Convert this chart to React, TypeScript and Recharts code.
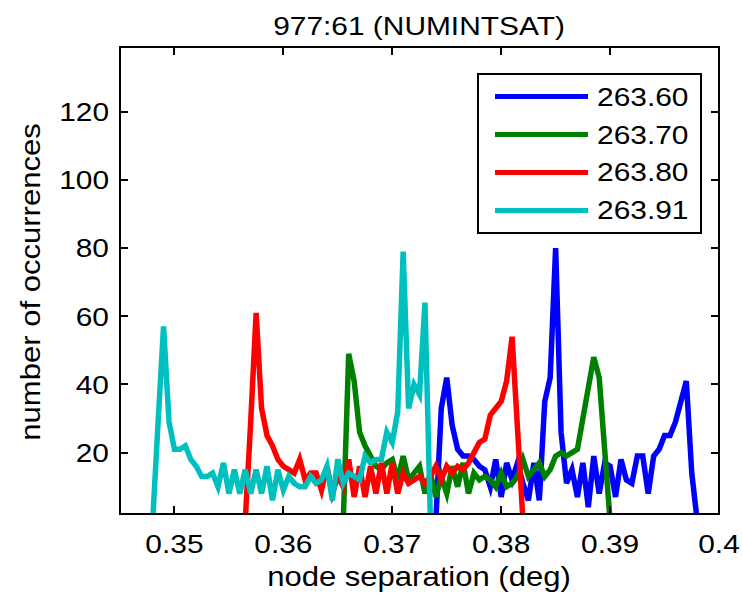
import React from 'react';
import { LineChart, Line, XAxis, YAxis, Legend } from 'recharts';

// histogram bins are 0.0005 deg wide
const binWidth = 0.0005;

const seriesLabels = ['263.60', '263.70', '263.80', '263.91'];
const seriesColors = ['#0000ff', '#008000', '#ff0000', '#00bfbf'];

// centre of the first bin of each curve
const seriesStarts = [0.374, 0.3655, 0.3565, 0.348];

const counts2636 = [0, 33, 42, 28, 21, 19, 19, 18, 16, 15, 10, 18, 7, 17, 12, 17, 11, 6, 17, 6, 35, 42, 80, 26, 11, 15, 7, 17, 4, 19, 8, 17, 16, 7, 18, 12, 11, 19, 19, 8, 19, 21, 25, 25, 29, 35, 41, 14, 0];
const counts2637 = [0, 49, 41, 26, 22, 19, 16, 15, 17, 18, 12, 19, 12, 14, 16, 8, 14, 7, 13, 8, 16, 10, 17, 8, 14, 12, 13, 12, 10, 14, 10, 11, 13, 18, 13, 15, 17, 13, 15, 19, 20, 19, 20, 21, 30, 39, 48, 42, 21, 0];
const counts2638 = [0, 29, 61, 33, 25, 22, 18, 16, 15, 14, 18, 12, 14, 14, 9, 16, 8, 13, 10, 18, 7, 16, 7, 16, 8, 17, 8, 17, 8, 14, 11, 12, 13, 11, 13, 16, 12, 16, 14, 16, 15, 17, 20, 23, 24, 31, 33, 35, 41, 54, 27, 0];
const counts26391 = [0, 29, 57, 29, 21, 21, 22, 18, 16, 13, 13, 14, 10, 17, 8, 15, 8, 15, 8, 15, 8, 16, 6, 15, 9, 13, 11, 10, 10, 13, 11, 12, 16, 6, 18, 11, 14, 13, 12, 19, 17, 18, 18, 26, 23, 32, 79, 33, 40, 37, 64, 0];

const xTicks = [0.35, 0.36, 0.37, 0.38, 0.39, 0.4];
const yTicks = [20, 40, 60, 80, 100, 120];

const xDomain = [0.345, 0.4];
const yDomain = [2, 139];

const allCounts = [counts2636, counts2637, counts2638, counts26391];

// one row per bin, each curve in its own column (empty outside its range)
const buildRows = () => {
  const rows = new Map<string, any>();
  allCounts.forEach((counts, s) => {
    counts.forEach((c, i) => {
      const x = +(seriesStarts[s] + i * binWidth).toFixed(4);
      const key = x.toFixed(4);
      if (!rows.has(key)) rows.set(key, { x });
      rows.get(key)[`s${s}`] = c;
    });
  });
  return Array.from(rows.values()).sort((a, b) => a.x - b.x);
};
const chartData = buildRows();

// chart geometry
const W = 742;
const H = 601;
const MARGIN = { top: 47, right: 23, bottom: 7, left: 0 };
const Y_AXIS_W = 120;
const X_AXIS_H = 80;
const plot = {
  left: MARGIN.left + Y_AXIS_W,
  right: W - MARGIN.right,
  top: MARGIN.top,
  bottom: H - MARGIN.bottom - X_AXIS_H,
};
const plotW = plot.right - plot.left;
const plotH = plot.bottom - plot.top;

const FONT = '"Liberation Sans", Arial, Helvetica, sans-serif';
const STRETCH = 1.15; // matlab's helvetica comes out wider than arial
const TICK_LEN = 7;
const FRAME_W = 2;

// fraction along the box for a tick value (frame decoration only)
const fracX = (v: number) => (v - xDomain[0]) / (xDomain[1] - xDomain[0]);
const fracY = (v: number) => (yDomain[1] - v) / (yDomain[1] - yDomain[0]);

const BottomTick = (props: any) => {
  const { x, y, payload } = props;
  return (
    <text transform={`translate(${x},${y + 19}) scale(${STRETCH},1)`} textAnchor="middle" fontSize={26} fontFamily={FONT} fill="#000">
      {String(payload.value)}
    </text>
  );
};

const LeftTick = (props: any) => {
  const { x, y, payload } = props;
  return (
    <text transform={`translate(${x},${y + 9.3}) scale(${STRETCH},1)`} textAnchor="end" fontSize={26} fontFamily={FONT} fill="#000">
      {payload.value}
    </text>
  );
};

const renderLegend = (props: any) => (
  <div
    style={{
      width: 225,
      height: 161,
      boxSizing: 'border-box',
      border: '2px solid #000',
      background: '#fff',
      paddingTop: 3,
      fontFamily: FONT,
    }}
  >
    {(props.payload || []).map((p: any) => (
      <div key={p.value} style={{ display: 'flex', alignItems: 'center', height: 37.8 }}>
        <div style={{ width: 93, height: 5, background: p.color, marginLeft: 16, marginRight: 9 }} />
        <span style={{ display: 'inline-block', fontSize: 26, color: '#000', lineHeight: 1, transform: `scaleX(${STRETCH})`, transformOrigin: 'left center' }}>
          {p.value}
        </span>
      </div>
    ))}
  </div>
);

// matlab style box around the axes, with inward ticks on all four sides
const AxesBox = () => {
  const tick = { position: 'absolute' as const, background: '#000' };
  return (
    <div
      style={{
        position: 'absolute',
        left: plot.left - FRAME_W / 2,
        top: plot.top - FRAME_W / 2,
        width: plotW + FRAME_W,
        height: plotH + FRAME_W,
        boxSizing: 'border-box',
        border: `${FRAME_W}px solid #000`,
        pointerEvents: 'none',
        zIndex: 10,
      }}
    >
      {xTicks.map((t) => (
        <React.Fragment key={`xt${t}`}>
          <div style={{ ...tick, left: fracX(t) * plotW - FRAME_W, width: FRAME_W, height: TICK_LEN, bottom: 0 }} />
          <div style={{ ...tick, left: fracX(t) * plotW - FRAME_W, width: FRAME_W, height: TICK_LEN, top: 0 }} />
        </React.Fragment>
      ))}
      {yTicks.map((t) => (
        <React.Fragment key={`yt${t}`}>
          <div style={{ ...tick, top: fracY(t) * plotH - FRAME_W, height: FRAME_W, width: TICK_LEN, left: 0 }} />
          <div style={{ ...tick, top: fracY(t) * plotH - FRAME_W, height: FRAME_W, width: TICK_LEN, right: 0 }} />
        </React.Fragment>
      ))}
    </div>
  );
};

export default function App() {
  return (
    <div style={{ position: 'absolute', left: 0, top: 0, width: W, height: H, background: '#fff' }}>
      <LineChart width={W} height={H} data={chartData} margin={MARGIN}>
        <XAxis
          dataKey="x"
          type="number"
          domain={xDomain}
          allowDataOverflow
          ticks={xTicks}
          height={X_AXIS_H}
          tickSize={0}
          tickLine={false}
          tickMargin={20}
          stroke="#000"
          strokeWidth={FRAME_W}
          tick={BottomTick}
        />
        <YAxis
          type="number"
          domain={yDomain}
          allowDataOverflow
          ticks={yTicks}
          width={Y_AXIS_W}
          tickSize={0}
          tickLine={false}
          tickMargin={11}
          stroke="#000"
          strokeWidth={FRAME_W}
          tick={LeftTick}
        />
        {seriesLabels.map((label, i) => (
          <Line
            key={label}
            dataKey={`s${i}`}
            name={label}
            stroke={seriesColors[i]}
            strokeWidth={5.5}
            dot={false}
            activeDot={false}
            type="linear"
            isAnimationActive={false}
          />
        ))}
        <Legend
          layout="vertical"
          align="center"
          verticalAlign="middle"
          content={renderLegend}
          wrapperStyle={{ left: 477, top: 73, width: 225, height: 161 }}
        />
      </LineChart>
      <AxesBox />
      <svg width={W} height={H} style={{ position: 'absolute', left: 0, top: 0, pointerEvents: 'none' }}>
        <g fontFamily={FONT} fill="#000">
          <text transform={`translate(419,35) scale(${STRETCH},1)`} textAnchor="middle" fontSize={26}>
            977:61 (NUMINTSAT)
          </text>
          <text transform={`translate(419,586) scale(${STRETCH},1)`} textAnchor="middle" fontSize={27}>
            node separation (deg)
          </text>
          <text transform={`translate(40,282) rotate(-90) scale(${STRETCH},1)`} textAnchor="middle" fontSize={27}>
            number of occurrences
          </text>
        </g>
      </svg>
    </div>
  );
}
